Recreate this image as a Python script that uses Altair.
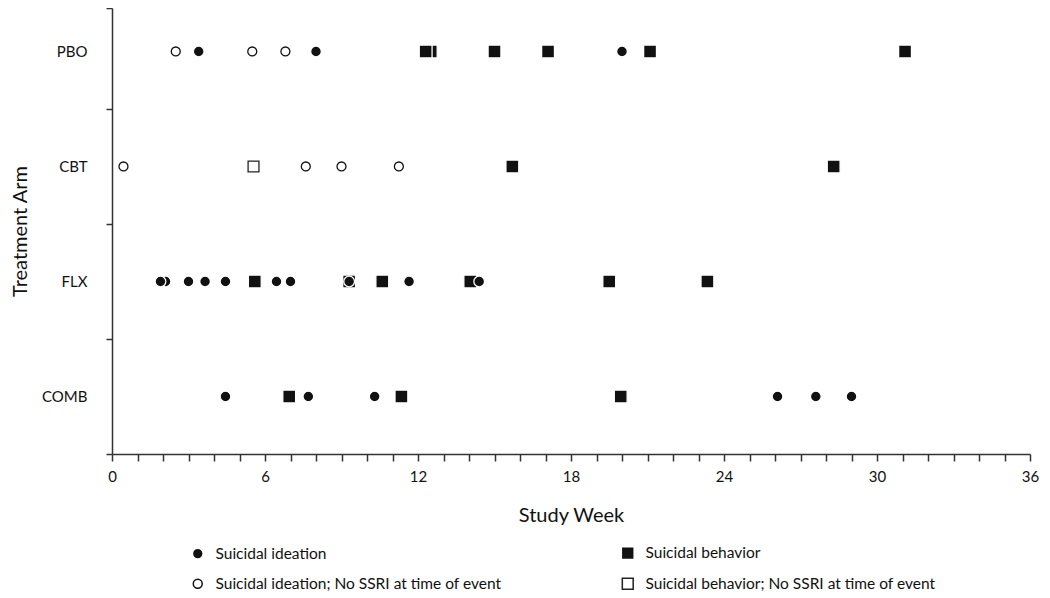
import altair as alt
import pandas as pd

FONT = "Lato"

# Treatment arms and their row positions (top to bottom)
arms = ["PBO", "CBT", "FLX", "COMB"]
arm_rows = [4, 3, 2, 1]

# Event type labels (legend order, column-major)
SI = "Suicidal ideation"
SB = "Suicidal behavior"
SI0 = "Suicidal ideation; No SSRI at time of event"
SB0 = "Suicidal behavior; No SSRI at time of event"
types = [SI, SI0, SB, SB0]
type_shapes = ["circle", "circle", "square", "square"]
type_fills = ["#111111", "#ffffff", "#111111", "#ffffff"]
type_strokes = ["#ffffff", "#111111", "#ffffff", "#222222"]
type_sizes = [115, 80, 165, 118]

# Events (weeks), drawn in this order
pbo_weeks = [2.5, 3.4, 5.5, 6.8, 8.0, 12.5, 12.3, 15.0, 17.1, 20.0, 21.1, 31.1]
pbo_types = [SI0, SI, SI0, SI0, SI, SB, SB, SB, SB, SI, SB, SB]

cbt_weeks = [0.45, 5.55, 7.6, 9.0, 11.25, 15.7, 28.3]
cbt_types = [SI0, SB0, SI0, SI0, SI0, SB, SB]

flx_weeks = [2.1, 1.9, 3.0, 3.65, 4.45, 5.6, 6.45, 7.0, 9.3, 9.3, 10.6, 11.65, 14.05, 14.4, 19.5, 23.35]
flx_types = [SI, SI, SI, SI, SI, SB, SI, SI, SB, SI, SB, SI, SB, SI, SB, SB]

comb_weeks = [4.45, 6.95, 7.7, 10.3, 11.35, 19.95, 26.1, 27.6, 29.0]
comb_types = [SI, SB, SI, SI, SB, SB, SI, SI, SI]

rows = []
for arm, wk, tp in [("PBO", pbo_weeks, pbo_types), ("CBT", cbt_weeks, cbt_types),
                    ("FLX", flx_weeks, flx_types), ("COMB", comb_weeks, comb_types)]:
    for w, t in zip(wk, tp):
        rows.append({"arm": arm, "row": arm_rows[arms.index(arm)], "week": w, "type": t})
df = pd.DataFrame(rows)

x_ticks = list(range(0, 37))
y_ticks = [0.5, 1, 1.5, 2, 2.5, 3, 3.5, 4, 4.378]

label_expr = ("datum.value == 4 ? 'PBO' : datum.value == 3 ? 'CBT' : "
              "datum.value == 2 ? 'FLX' : datum.value == 1 ? 'COMB' : ''")


def leg():
    return alt.Legend(title=None, orient="none", legendX=78, legendY=537,
                      columns=2, columnPadding=116, rowPadding=12,
                      labelFontSize=15.5, labelLimit=500, labelOffset=10)


chart = alt.Chart(df).mark_point(filled=True, strokeWidth=1.3, opacity=1).encode(
    x=alt.X("week:Q",
            scale=alt.Scale(domain=[0, 36], nice=False, zero=False),
            axis=alt.Axis(values=x_ticks,
                          labelExpr="datum.value % 6 === 0 ? datum.label : ''",
                          title="Study Week", grid=False, tickSize=7,
                          labelPadding=8, titlePadding=21,
                          labelFontSize=15, titleFontSize=20,
                          labelFlush=False)),
    y=alt.Y("row:Q",
            scale=alt.Scale(domain=[0.5, 4.378], nice=False, zero=False),
            axis=alt.Axis(values=y_ticks, labelExpr=label_expr,
                          title="Treatment Arm", grid=False, tickSize=6,
                          tickOpacity={"condition": {"test": "datum.value % 1 != 0", "value": 1}, "value": 0},
                          labelPadding=19, titlePadding=11,
                          labelFontSize=15, titleFontSize=20)),
    shape=alt.Shape("type:N", scale=alt.Scale(domain=types, range=type_shapes), legend=leg()),
    fill=alt.Fill("type:N", scale=alt.Scale(domain=types, range=type_fills), legend=leg()),
    stroke=alt.Stroke("type:N", scale=alt.Scale(domain=types, range=type_strokes), legend=leg()),
    size=alt.Size("type:N", scale=alt.Scale(type="ordinal", domain=types, range=type_sizes), legend=leg()),
).properties(
    width=918, height=446,
    autosize=alt.AutoSizeParams(type="none"),
    padding={"left": 104, "top": 0, "right": 10, "bottom": 140},
).configure(font=FONT).configure_view(stroke=None).configure_axis(
    domainColor="#333333", tickColor="#333333", domainWidth=1.5, tickWidth=1.5,
    labelColor="#111111", titleColor="#111111", titleFontWeight="normal",
    labelFont=FONT, titleFont=FONT,
).configure_legend(labelFont=FONT, labelColor="#111111")

chart.save("out.html", embed_options={"renderer": "svg", "actions": False})
